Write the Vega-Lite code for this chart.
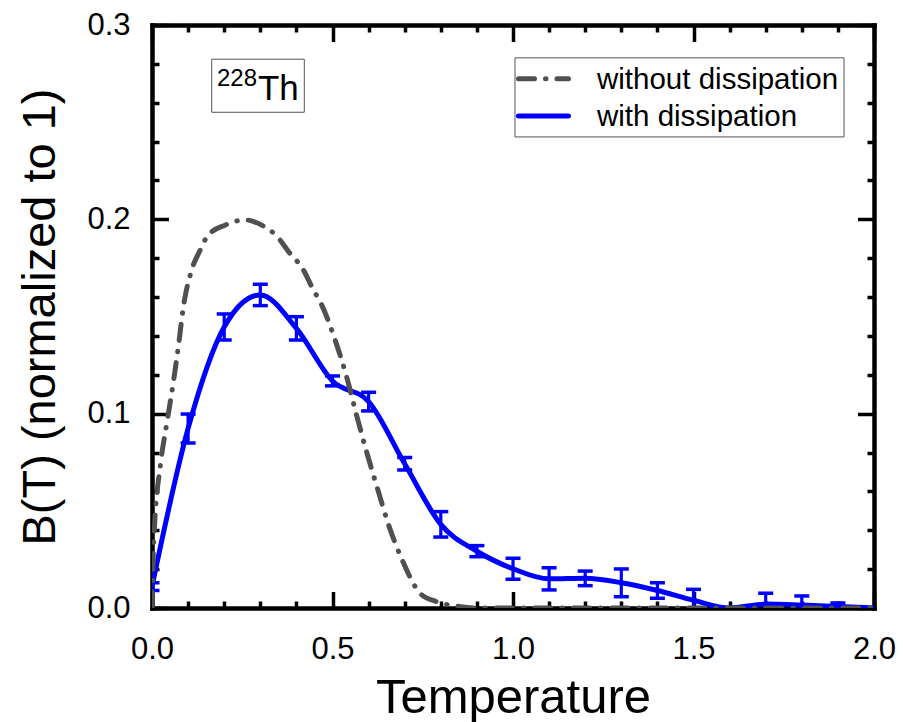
{
  "$schema": "https://vega.github.io/schema/vega-lite/v6.json",
  "width": 722,
  "height": 583,
  "autosize": {"type": "none"},
  "padding": {"left": 152, "top": 25, "right": 29, "bottom": 114},
  "background": "white",
  "config": {
    "view": {"stroke": null},
    "font": "Liberation Sans",
    "axis": {"grid": false, "labelFont": "Liberation Sans", "titleFont": "Liberation Sans"}
  },
  "datasets": {
    "blue": [
      {"T": 0.0, "B": 0.011, "lo": 0.009, "hi": 0.013},
      {"T": 0.1, "B": 0.0924, "lo": 0.0849, "hi": 0.0998},
      {"T": 0.2, "B": 0.1446, "lo": 0.1379, "hi": 0.1513},
      {"T": 0.3, "B": 0.1611, "lo": 0.1556, "hi": 0.1666},
      {"T": 0.4, "B": 0.1439, "lo": 0.1379, "hi": 0.1499},
      {"T": 0.5, "B": 0.1168, "lo": 0.1143, "hi": 0.1194},
      {"T": 0.6, "B": 0.1062, "lo": 0.1014, "hi": 0.111},
      {"T": 0.7, "B": 0.0742, "lo": 0.071, "hi": 0.0774},
      {"T": 0.8, "B": 0.043, "lo": 0.0365, "hi": 0.0496},
      {"T": 0.9, "B": 0.0292, "lo": 0.0264, "hi": 0.0321},
      {"T": 1.0, "B": 0.0202, "lo": 0.0148, "hi": 0.0256},
      {"T": 1.1, "B": 0.015, "lo": 0.0093, "hi": 0.0207},
      {"T": 1.2, "B": 0.0153, "lo": 0.0115, "hi": 0.019},
      {"T": 1.3, "B": 0.013, "lo": 0.0058, "hi": 0.0201},
      {"T": 1.4, "B": 0.009, "lo": 0.005, "hi": 0.013},
      {"T": 1.5, "B": 0.004, "lo": -0.0016, "hi": 0.0096},
      {"T": 1.6, "B": 0.0, "lo": 0.0, "hi": 0.0},
      {"T": 1.7, "B": 0.002, "lo": -0.0036, "hi": 0.0076},
      {"T": 1.8, "B": 0.0015, "lo": -0.0032, "hi": 0.0062},
      {"T": 1.9, "B": 0.0008, "lo": -0.001, "hi": 0.0026},
      {"T": 2.0, "B": 0.0, "lo": 0.0, "hi": 0.0}
    ],
    "gray": [
      {"T": 0.0, "B": 0.0},
      {"T": 0.005, "B": 0.035},
      {"T": 0.024, "B": 0.0746},
      {"T": 0.041, "B": 0.095},
      {"T": 0.059, "B": 0.116},
      {"T": 0.073, "B": 0.1345},
      {"T": 0.087, "B": 0.155},
      {"T": 0.11, "B": 0.174},
      {"T": 0.133, "B": 0.184},
      {"T": 0.154, "B": 0.1915},
      {"T": 0.202, "B": 0.197},
      {"T": 0.258, "B": 0.1997},
      {"T": 0.304, "B": 0.197},
      {"T": 0.345, "B": 0.1915},
      {"T": 0.382, "B": 0.1825},
      {"T": 0.416, "B": 0.175},
      {"T": 0.447, "B": 0.1637},
      {"T": 0.47, "B": 0.156},
      {"T": 0.507, "B": 0.138},
      {"T": 0.539, "B": 0.119},
      {"T": 0.567, "B": 0.099},
      {"T": 0.595, "B": 0.08},
      {"T": 0.627, "B": 0.06},
      {"T": 0.655, "B": 0.043},
      {"T": 0.696, "B": 0.0235},
      {"T": 0.742, "B": 0.0077},
      {"T": 0.789, "B": 0.0032},
      {"T": 0.85, "B": 0.0008},
      {"T": 0.9, "B": 0.0},
      {"T": 1.2, "B": 0.0},
      {"T": 1.6, "B": 0.0},
      {"T": 2.0, "B": 0.0}
    ],
    "legend": [
      {"series": "without dissipation", "row": 0.2723},
      {"series": "with dissipation", "row": 0.2532}
    ]
  },
  "layer": [
    {
      "data": {"values": [{}]},
      "mark": {"type": "rect", "fill": "white", "stroke": "#555555", "strokeWidth": 1},
      "encoding": {
        "x": {"datum": 0.1654, "type": "quantitative", "scale": {"domain": [0, 2], "nice": false}, "axis": null},
        "x2": {"datum": 0.4219},
        "y": {"datum": 0.2824, "type": "quantitative", "scale": {"domain": [0, 0.3], "nice": false}, "axis": null},
        "y2": {"datum": 0.2551}
      }
    },
    {
      "data": {"values": [{}]},
      "mark": {"type": "rect", "fill": "white", "stroke": "#555555", "strokeWidth": 1},
      "encoding": {
        "x": {"datum": 1.0055, "type": "quantitative", "scale": {"domain": [0, 2], "nice": false}, "axis": null},
        "x2": {"datum": 1.917},
        "y": {"datum": 0.2831, "type": "quantitative", "scale": {"domain": [0, 0.3], "nice": false}, "axis": null},
        "y2": {"datum": 0.2424}
      }
    },
    {
      "data": {"values": [{}]},
      "mark": {"type": "text", "text": "228", "fontSize": 24, "align": "left", "baseline": "alphabetic", "color": "black"},
      "encoding": {
        "x": {"datum": 0.18, "type": "quantitative", "scale": {"domain": [0, 2], "nice": false}, "axis": null},
        "y": {"datum": 0.2684, "type": "quantitative", "scale": {"domain": [0, 0.3], "nice": false}, "axis": null}
      }
    },
    {
      "data": {"values": [{}]},
      "mark": {"type": "text", "text": "Th", "fontSize": 35, "align": "left", "baseline": "alphabetic", "color": "black"},
      "encoding": {
        "x": {"datum": 0.2936, "type": "quantitative", "scale": {"domain": [0, 2], "nice": false}, "axis": null},
        "y": {"datum": 0.2615, "type": "quantitative", "scale": {"domain": [0, 0.3], "nice": false}, "axis": null}
      }
    },
    {
      "data": {"name": "legend"},
      "transform": [{"filter": "datum.series === 'without dissipation'"}],
      "mark": {"type": "rule", "color": "#505050", "strokeWidth": 5, "strokeCap": "round", "strokeDash": [16, 11, 0.5, 11]},
      "encoding": {
        "x": {"datum": 1.0152, "type": "quantitative", "scale": {"domain": [0, 2], "nice": false}, "axis": null},
        "x2": {"datum": 1.1537},
        "y": {"field": "row", "type": "quantitative", "scale": {"domain": [0, 0.3], "nice": false}, "axis": null}
      }
    },
    {
      "data": {"name": "legend"},
      "transform": [{"filter": "datum.series === 'with dissipation'"}],
      "mark": {"type": "rule", "color": "#0000ff", "strokeWidth": 5, "strokeCap": "round"},
      "encoding": {
        "x": {"datum": 1.0152, "type": "quantitative", "scale": {"domain": [0, 2], "nice": false}, "axis": null},
        "x2": {"datum": 1.1537},
        "y": {"field": "row", "type": "quantitative", "scale": {"domain": [0, 0.3], "nice": false}, "axis": null}
      }
    },
    {
      "data": {"name": "legend"},
      "mark": {"type": "text", "fontSize": 29.5, "align": "left", "baseline": "middle", "color": "black", "dy": 1},
      "encoding": {
        "x": {"datum": 1.2327, "type": "quantitative", "scale": {"domain": [0, 2], "nice": false}, "axis": null},
        "y": {"field": "row", "type": "quantitative", "scale": {"domain": [0, 0.3], "nice": false}, "axis": null},
        "text": {"field": "series"}
      }
    },
    {
      "data": {"name": "blue"},
      "mark": {"type": "rule", "color": "blue", "strokeWidth": 3.2, "clip": true},
      "encoding": {
        "x": {"field": "T", "type": "quantitative", "scale": {"domain": [0, 2], "nice": false},
          "axis": {"orient": "bottom", "values": [0, 0.5, 1, 1.5, 2], "labels": false, "domain": false, "tickSize": -16.5, "tickWidth": 3.5, "tickColor": "black", "title": null}},
        "y": {"field": "lo", "type": "quantitative", "scale": {"domain": [0, 0.3], "nice": false},
          "axis": {"orient": "left", "values": [0, 0.1, 0.2, 0.3], "labels": false, "domain": false, "tickSize": -16.5, "tickWidth": 3.5, "tickColor": "black", "title": null}},
        "y2": {"field": "hi"}
      }
    },
    {
      "data": {"name": "blue"},
      "mark": {"type": "tick", "orient": "horizontal", "color": "blue", "size": 15, "thickness": 3.5, "clip": true, "opacity": 1},
      "encoding": {
        "x": {"field": "T", "type": "quantitative", "scale": {"domain": [0, 2], "nice": false},
          "axis": {"orient": "bottom", "values": [0.1, 0.2, 0.3, 0.4, 0.6, 0.7, 0.8, 0.9, 1.1, 1.2, 1.3, 1.4, 1.6, 1.7, 1.8, 1.9], "labels": false, "domain": false, "tickSize": -7, "tickWidth": 3.5, "tickColor": "black", "title": null}},
        "y": {"field": "lo", "type": "quantitative", "scale": {"domain": [0, 0.3], "nice": false},
          "axis": {"orient": "left", "values": [0.02, 0.04, 0.06, 0.08, 0.12, 0.14, 0.16, 0.18, 0.22, 0.24, 0.26, 0.28], "labels": false, "domain": false, "tickSize": -7, "tickWidth": 3.5, "tickColor": "black", "title": null}}
      }
    },
    {
      "data": {"name": "blue"},
      "mark": {"type": "tick", "orient": "horizontal", "color": "blue", "size": 15, "thickness": 3.5, "clip": true, "opacity": 1},
      "encoding": {
        "x": {"field": "T", "type": "quantitative", "scale": {"domain": [0, 2], "nice": false},
          "axis": {"orient": "top", "values": [0.1, 0.2, 0.3, 0.4, 0.6, 0.7, 0.8, 0.9, 1.1, 1.2, 1.3, 1.4, 1.6, 1.7, 1.8, 1.9], "labels": false, "domain": false, "tickSize": -7, "tickWidth": 3.5, "tickColor": "black", "title": null}},
        "y": {"field": "hi", "type": "quantitative", "scale": {"domain": [0, 0.3], "nice": false},
          "axis": {"orient": "right", "values": [0.02, 0.04, 0.06, 0.08, 0.12, 0.14, 0.16, 0.18, 0.22, 0.24, 0.26, 0.28], "labels": false, "domain": false, "tickSize": -7, "tickWidth": 3.5, "tickColor": "black", "title": null}}
      }
    },
    {
      "data": {"name": "blue"},
      "mark": {"type": "line", "interpolate": "monotone", "strokeWidth": 5, "color": "#0000ff", "clip": true},
      "encoding": {
        "x": {"field": "T", "type": "quantitative", "scale": {"domain": [0, 2], "nice": false},
          "axis": {"orient": "bottom", "values": [0, 0.5, 1, 1.5, 2], "format": ".1f", "ticks": false, "tickSize": 0, "domainWidth": 4.5, "domainColor": "black", "domainCap": "square", "labelFontSize": 31, "labelColor": "black", "labelPadding": 50, "labelBaseline": "alphabetic", "labelFlush": false,
            "title": "Temperature", "titleFontSize": 49, "titleFontWeight": "normal", "titleColor": "black", "titleX": 361, "titleY": 104, "titleBaseline": "alphabetic", "titleAlign": "center"}},
        "y": {"field": "B", "type": "quantitative", "scale": {"domain": [0, 0.3], "nice": false},
          "axis": {"orient": "left", "values": [0, 0.1, 0.2, 0.3], "format": ".1f", "ticks": false, "tickSize": 0, "domainWidth": 4.5, "domainColor": "black", "domainCap": "square", "labelFontSize": 31, "labelColor": "black", "labelPadding": 22, "labelBaseline": "middle", "labelFlush": false,
            "title": "B(T) (normalized to 1)", "titleFontSize": 47, "titleFontWeight": "normal", "titleColor": "black", "titleX": -112, "titleY": 291.5, "titleAngle": -90, "titleAlign": "center", "titleBaseline": "middle"}}
      }
    },
    {
      "data": {"name": "gray"},
      "mark": {"type": "line", "interpolate": "monotone", "strokeWidth": 5, "strokeCap": "round", "strokeDash": [16, 11, 0.5, 11], "color": "#505050", "clip": true},
      "encoding": {
        "x": {"field": "T", "type": "quantitative", "scale": {"domain": [0, 2], "nice": false},
          "axis": {"orient": "top", "values": [0, 0.5, 1, 1.5, 2], "labels": false, "domainWidth": 4.5, "domainColor": "black", "domainCap": "square", "tickSize": -16.5, "tickWidth": 3.5, "tickColor": "black", "title": null}},
        "y": {"field": "B", "type": "quantitative", "scale": {"domain": [0, 0.3], "nice": false},
          "axis": {"orient": "right", "values": [0, 0.1, 0.2, 0.3], "labels": false, "domainWidth": 4.5, "domainColor": "black", "domainCap": "square", "tickSize": -16.5, "tickWidth": 3.5, "tickColor": "black", "title": null}}
      }
    }
  ],
  "resolve": {"axis": {"x": "independent", "y": "independent"}}
}
